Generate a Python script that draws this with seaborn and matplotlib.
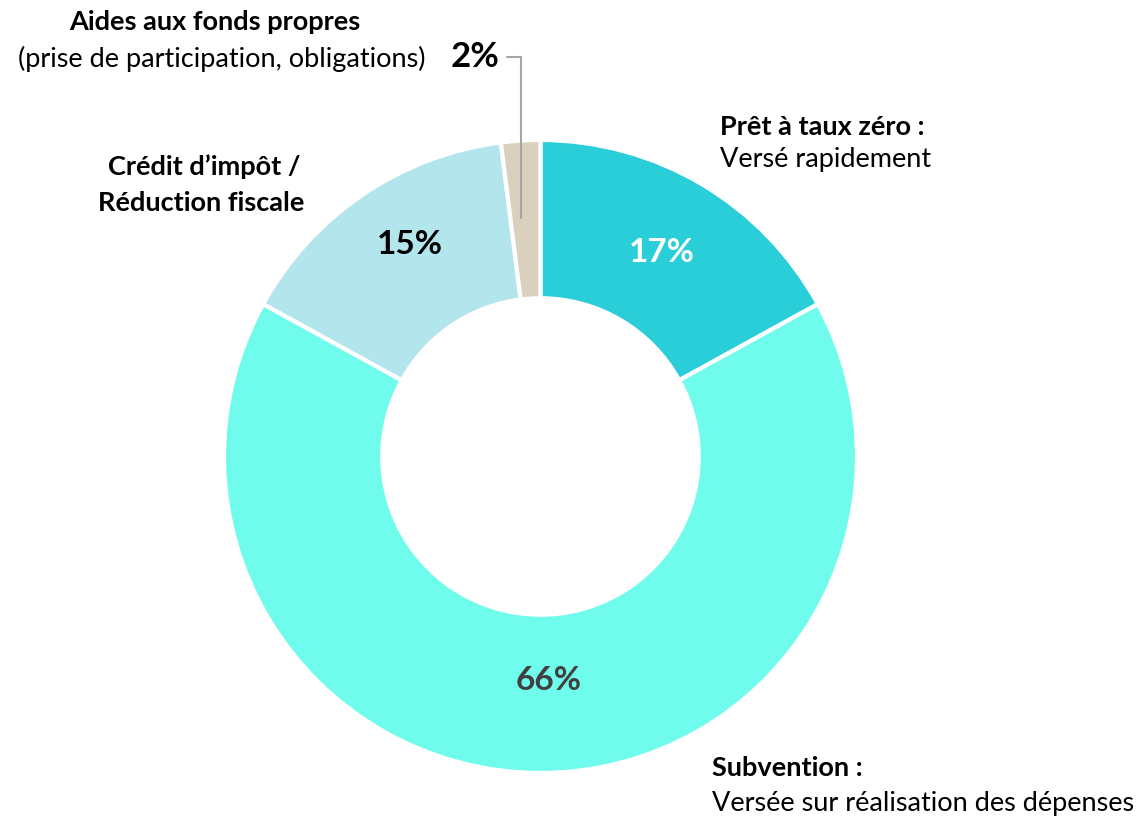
import matplotlib.pyplot as plt
import seaborn as sns

# Données : répartition des aides (sens horaire depuis le haut)
categories = ["Prêt à taux zéro", "Subvention", "Crédit d'impôt", "Aides aux fonds propres"]
parts = [17, 66, 15, 2]
couleurs = ["#29CED8", "#6FFCEC", "#B3E5EC", "#D9D0BE"]
pct_couleurs = ["white", "#404040", "black", None]

sns.set_theme(style="white")
plt.rcParams['font.family'] = ['Lato', 'DejaVu Sans']

fig = plt.figure(figsize=(11.4, 8.16), dpi=100)
ax = fig.add_axes([0, 0, 1, 1])

H = 816
cx, cy, R = 540.5, H - 456.5, 316.5
fs = 19.5

wedges, textes, pcts = ax.pie(
    parts, colors=couleurs, startangle=90, counterclock=False,
    center=(cx, cy), radius=R, autopct='%d%%', pctdistance=0.75,
    wedgeprops=dict(width=R * 0.5, edgecolor='white', linewidth=3),
    frame=True)
ax.set_xlim(0, 1140)
ax.set_ylim(0, 816)
ax.axis('off')

# position des pourcentages comme dans l'original (léger décalage)
pct_pos = [(662, H - 253), (549, H - 680), (410, H - 244), None]
for t, c, p in zip(pcts, pct_couleurs, pct_pos):
    if c is None:
        t.set_visible(False)
    else:
        t.set_color(c)
        t.set_fontsize(24)
        t.set_fontweight('bold')
        t.set_position(p)

# Étiquettes
ax.text(215, H - 22, "Aides aux fonds propres", ha='center', va='center',
        fontsize=fs, fontweight='bold', color='black')
ax.text(222, H - 59, "(prise de participation, obligations)", ha='center', va='center',
        fontsize=fs, color='black')
ax.text(475, H - 57, "2%", ha='center', va='center', fontsize=25,
        fontweight='bold', color='black')
ax.annotate("", xy=(521, H - 218), xytext=(507, H - 57),
            arrowprops=dict(arrowstyle='-', color='#A6A6A6', lw=1.5,
                            connectionstyle='angle,angleA=0,angleB=90,rad=0',
                            shrinkA=0, shrinkB=0))

ax.text(204, H - 167, "Crédit d\u2019impôt /", ha='center', va='center',
        fontsize=fs, fontweight='bold', color='black')
ax.text(201, H - 203, "Réduction fiscale", ha='center', va='center',
        fontsize=fs, fontweight='bold', color='black')

ax.text(720, H - 127, "Prêt à taux zéro :", ha='left', va='center',
        fontsize=fs, fontweight='bold', color='black')
ax.text(720, H - 160, "Versé rapidement", ha='left', va='center',
        fontsize=fs, color='black')

ax.text(712, H - 768, "Subvention :", ha='left', va='center',
        fontsize=fs, fontweight='bold', color='black')
ax.text(712, H - 803, "Versée sur réalisation des dépenses", ha='left', va='center',
        fontsize=fs, color='black')

fig.savefig("out.png", dpi=100)
